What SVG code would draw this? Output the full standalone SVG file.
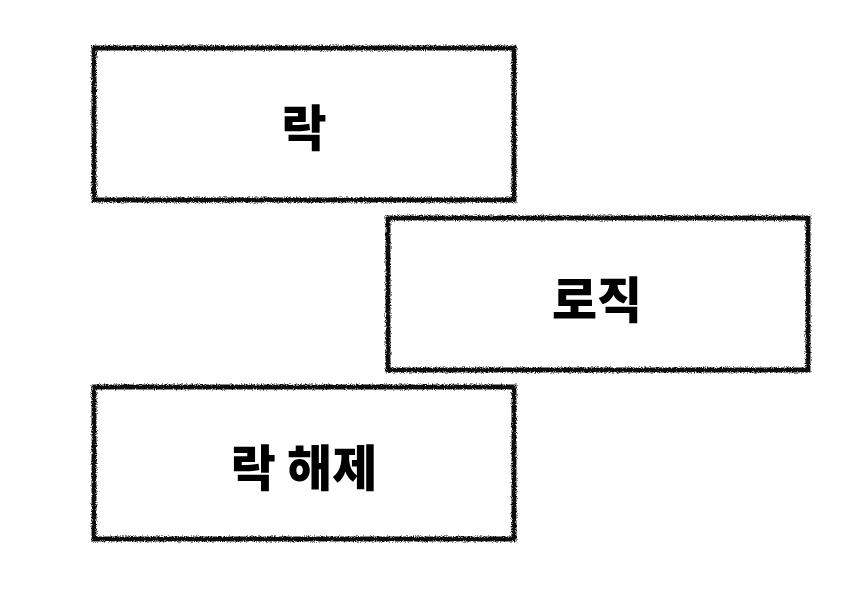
<svg xmlns="http://www.w3.org/2000/svg" width="868" height="614" viewBox="0 0 868 614">
  <style>
    .box { fill: #ffffff; stroke: #111111; stroke-width: 5; filter: url(#rough); }
    .label { font-family: "Noto Sans CJK KR", "Noto Sans", sans-serif; font-weight: 900; font-size: 49px; fill: #000000; text-anchor: middle; dominant-baseline: central; }
  </style>
  <defs>
    <filter id="rough" x="-5%" y="-5%" width="110%" height="110%">
      <feTurbulence type="fractalNoise" baseFrequency="0.9" numOctaves="2" seed="3" result="noise"/>
      <feDisplacementMap in="SourceGraphic" in2="noise" scale="4" xChannelSelector="R" yChannelSelector="G"/>
    </filter>
  </defs>
  <rect width="868" height="614" fill="#ffffff"/>
  <g id="node-lock">
    <rect class="box" x="94" y="48" width="420" height="152"/>
    <text class="label" x="304" y="124">락</text>
  </g>
  <g id="node-logic">
    <rect class="box" x="388" y="218" width="420" height="152"/>
    <text class="label" x="597" y="296">로직</text>
  </g>
  <g id="node-unlock">
    <rect class="box" x="94" y="387" width="420" height="152"/>
    <text class="label" x="304" y="464">락 해제</text>
  </g>
  <g id="connectors"></g>
</svg>
